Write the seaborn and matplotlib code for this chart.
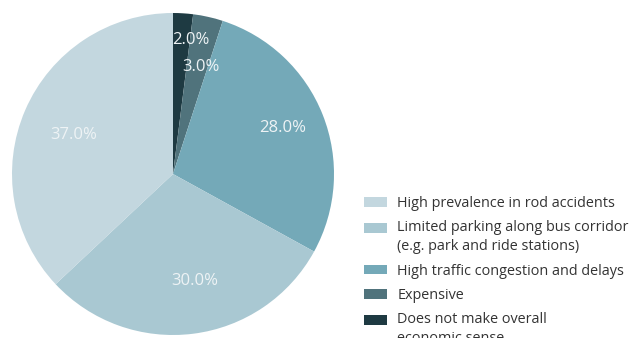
import matplotlib
matplotlib.use("Agg")
import matplotlib.pyplot as plt
import seaborn as sns
import numpy as np
from matplotlib.patches import Patch

sns.set_theme(style="white")
plt.rcParams['font.family'] = ['Open Sans', 'DejaVu Sans']

# Legend order (top to bottom)
categories = [
    "High prevalence in rod accidents",
    "Limited parking along bus corridor\n(e.g. park and ride stations)",
    "High traffic congestion and delays",
    "Expensive",
    "Does not make overall\neconomic sense",
]
values = [37.0, 30.0, 28.0, 3.0, 2.0]
colors = ["#c3d7df", "#a9c8d2", "#74a9b8", "#50737c", "#1e3a42"]

fig = plt.figure(figsize=(6.31, 3.38), dpi=100)
W, H = 631, 338
cx, cy, r = 173, 174, 161
ax = fig.add_axes([(cx - r) / W, (H - cy - r) / H, 2 * r / W, 2 * r / H])

# Draw clockwise from top, starting with the smallest slice
order = list(range(len(values)))[::-1]
vals = [values[i] for i in order]
cols = [colors[i] for i in order]
# label radial distance and small nudges (fraction of radius)
pct_dist = [0.857, 0.70, 0.745, 0.65, 0.67]
nudges = [(0.057, -0.02), (0.023, -0.02), (-0.01, 0.012), (0.055, -0.022), (0.0, -0.022)]

wedges, texts, autotexts = ax.pie(
    vals, colors=cols, startangle=90, counterclock=False,
    autopct="%.1f%%", pctdistance=0.7, radius=1.0,
    wedgeprops=dict(linewidth=0),
    textprops=dict(color="#eef3f5", fontsize=12),
)
for w, t, d, (nx, ny) in zip(wedges, autotexts, pct_dist, nudges):
    ang = np.deg2rad((w.theta1 + w.theta2) / 2)
    t.set_position((d * np.cos(ang) + nx, d * np.sin(ang) + ny))

ax.set_xlim(-1, 1)
ax.set_ylim(-1, 1)
ax.set_aspect("equal")
ax.axis("off")

fs = 10.4
handles = [Patch(facecolor=c, edgecolor="none") for c in colors]
leg = fig.legend(handles, categories, loc="upper left",
                 bbox_to_anchor=(364 / W, 1 - 196 / H), frameon=False,
                 fontsize=fs, handlelength=1.6, handleheight=0.68,
                 handletextpad=0.7, labelspacing=0.64, borderaxespad=0,
                 borderpad=0, labelcolor="#333333")
for t in leg.get_texts():
    t.set_linespacing(1.37)
# align the swatch of two-line entries with their first line
for h, lab in zip(leg.legend_handles, categories):
    if "\n" in lab:
        h.set_y(h.get_y() + 0.5 * 1.37 * fs * 0.98)

fig.savefig("out.png", dpi=100)
